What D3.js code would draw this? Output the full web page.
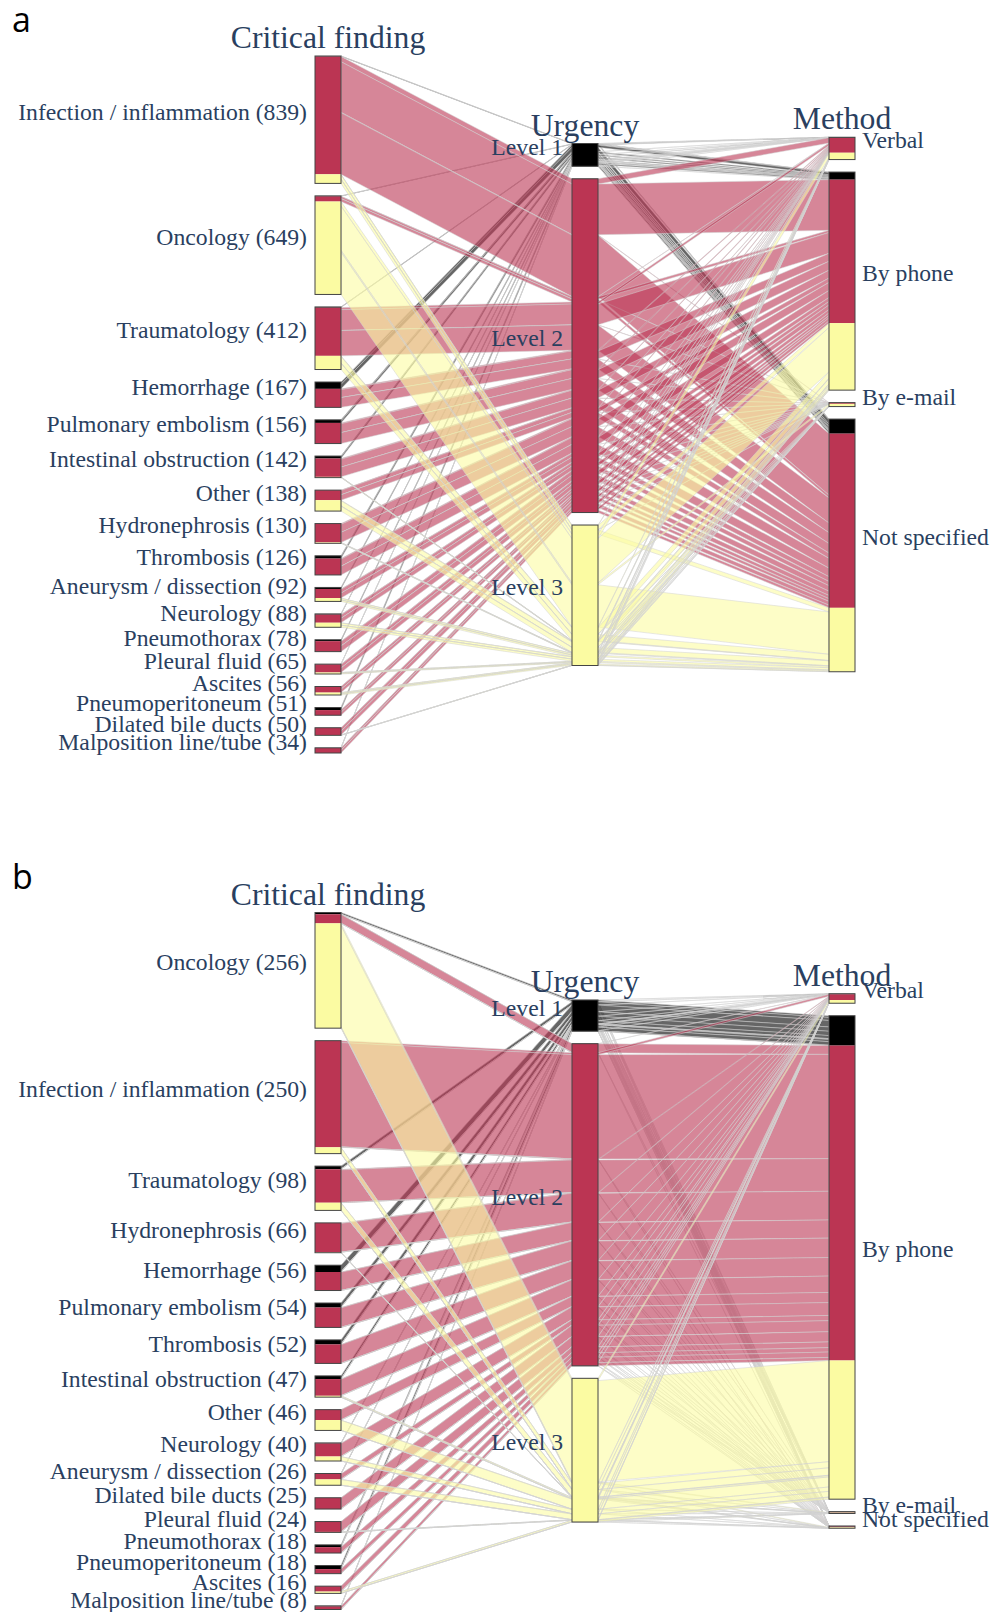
<!DOCTYPE html>
<html>
<head>
<meta charset="utf-8">
<script src="https://cdn.jsdelivr.net/npm/d3@7"></script>
<style>
  body { margin: 0; background: #fff; }
  svg { display: block; }
</style>
</head>
<body>
<svg id="chart" width="1004" height="1612"></svg>
<script>
// dimension names and categories shared by both panels
const dimTitles = ["Critical finding", "Urgency", "Method"];
const urgencyLevels = ["Level 1", "Level 2", "Level 3"];
const methodNames = ["Verbal", "By phone", "By e-mail", "Not specified"];
const levelColors = ["#000000", "#bb3553", "#fbfba2"];

// ---- panel a ----
const findingsA = ["Infection / inflammation", "Oncology", "Traumatology", "Hemorrhage",
  "Pulmonary embolism", "Intestinal obstruction", "Other", "Hydronephrosis", "Thrombosis",
  "Aneurysm / dissection", "Neurology", "Pneumothorax", "Pleural fluid", "Ascites",
  "Pneumoperitoneum", "Dilated bile ducts", "Malposition line/tube"];
const level1A = [3, 2, 4, 45, 20, 16, 0, 0, 18, 10, 4, 9, 1, 0, 17, 0, 1];
const level2A = [776, 35, 318, 122, 136, 121, 66, 124, 108, 60, 54, 69, 54, 40, 34, 48, 33];
const level3A = [60, 612, 90, 0, 0, 5, 72, 6, 0, 22, 30, 0, 10, 16, 0, 2, 0];
// method counts per urgency level: Verbal, By phone, By e-mail, Not specified
const methodLevel1A = [4, 50, 0, 96];
const methodLevel2A = [98, 945, 8, 1147];
const methodLevel3A = [45, 441, 18, 421];

// ---- panel b ----
const findingsB = ["Oncology", "Infection / inflammation", "Traumatology", "Hydronephrosis",
  "Hemorrhage", "Pulmonary embolism", "Thrombosis", "Intestinal obstruction", "Other",
  "Neurology", "Aneurysm / dissection", "Dilated bile ducts", "Pleural fluid",
  "Pneumothorax", "Pneumoperitoneum", "Ascites", "Malposition line/tube"];
const level1B = [4, 0, 7, 0, 15, 10, 10, 7, 0, 1, 1, 0, 0, 5, 8, 0, 1];
const level2B = [20, 236, 74, 65, 41, 44, 42, 37, 23, 29, 12, 25, 23, 13, 10, 12, 7];
const level3B = [232, 14, 17, 1, 0, 0, 0, 3, 23, 10, 13, 0, 1, 0, 0, 4, 0];
const methodLevel1B = [1, 66, 1, 1];
const methodLevel2B = [13, 697, 1, 2];
const methodLevel3B = [7, 307, 2, 2];

const svg = d3.select("#chart");
const textColor = "#2a3f5f";
const barWidth = 26;
const gap = 12.5;
const panelHeight = 697;

function drawPanel(letter, top, findings, levels, methodsByLevel) {
  const g = svg.append("g");
  const cats = [findings, urgencyLevels, methodNames];
  const maxCats = d3.max(cats, c => c.length);

  // one path per finding x urgency x method, already in parcats sort order
  const paths = [];
  urgencyLevels.forEach((u, ui) => {
    const mTot = d3.sum(methodsByLevel[ui]);
    findings.forEach((f, fi) => {
      methodNames.forEach((m, mi) => {
        const v = levels[ui][fi] * methodsByLevel[ui][mi] / mTot;
        if (v > 0) paths.push({ cat: [fi, ui, mi], level: ui, value: v });
      });
    });
  });
  const total = d3.sum(paths, p => p.value);

  const x = d3.scalePoint().domain(dimTitles).range([315, 829]);
  const y = d3.scaleLinear().domain([0, total]).range([0, panelHeight - gap * (maxCats - 1)]);

  // category boxes
  const boxes = cats.map((list, d) => {
    const counts = list.map((c, ci) => d3.sum(paths.filter(p => p.cat[d] === ci), p => p.value));
    let yy = top + (maxCats - list.length) * gap / 2;
    return list.map((c, ci) => {
      const b = { name: c, count: counts[ci], y0: yy, y1: yy + y(counts[ci]), ptr: yy };
      yy = b.y1 + gap;
      return b;
    });
  });

  // stack paths inside each category
  paths.forEach(p => {
    p.pos = p.cat.map((ci, d) => {
      const b = boxes[d][ci];
      const seg = [b.ptr, b.ptr + y(p.value)];
      b.ptr = seg[1];
      return seg;
    });
  });

  const line = d3.line();
  g.append("g").selectAll("path")
    .data(paths)
    .join("path")
    .attr("d", p => {
      const xs = dimTitles.map(t => x(t));
      const topPts = [[xs[0] + barWidth, p.pos[0][0]], [xs[1], p.pos[1][0]],
        [xs[1] + barWidth, p.pos[1][0]], [xs[2], p.pos[2][0]]];
      const botPts = [[xs[2], p.pos[2][1]], [xs[1] + barWidth, p.pos[1][1]],
        [xs[1], p.pos[1][1]], [xs[0] + barWidth, p.pos[0][1]]];
      return line(topPts.concat(botPts)) + "Z";
    })
    .attr("fill", p => levelColors[p.level])
    .attr("fill-opacity", 0.6)
    .attr("stroke", "lightgray")
    .attr("stroke-width", 0.5);

  // bars: colour bands then outline
  dimTitles.forEach((t, d) => {
    const dg = g.append("g");
    boxes[d].forEach((b, ci) => {
      const bands = urgencyLevels.map((u, ui) => {
        const ps = paths.filter(p => p.cat[d] === ci && p.level === ui);
        if (!ps.length) return null;
        return { level: ui, y0: d3.min(ps, p => p.pos[d][0]), y1: d3.max(ps, p => p.pos[d][1]) };
      }).filter(Boolean);
      dg.selectAll(null).data(bands).join("rect")
        .attr("x", x(t)).attr("width", barWidth)
        .attr("y", s => s.y0).attr("height", s => s.y1 - s.y0)
        .attr("fill", s => levelColors[s.level]);
      dg.append("rect")
        .attr("x", x(t)).attr("width", barWidth)
        .attr("y", b.y0).attr("height", Math.max(b.y1 - b.y0, 0.5))
        .attr("fill", "none")
        .attr("stroke", "#444")
        .attr("stroke-width", 1);
    });

    // category labels
    const labels = dg.selectAll("text.cat").data(boxes[d]).join("text")
      .attr("class", "cat")
      .attr("y", b => (b.y0 + b.y1) / 2)
      .attr("font-family", "Liberation Serif, Times New Roman, serif")
      .attr("font-size", 23.7)
      .attr("fill", textColor);
    if (d === 0) {
      labels.attr("x", x(t) - 8).attr("text-anchor", "end")
        .text(b => `${b.name} (${Math.round(b.count)})`);
    } else if (d === 1) {
      labels.attr("x", x(t) - 9).attr("text-anchor", "end").text(b => b.name);
    } else {
      labels.attr("x", x(t) + barWidth + 7).attr("text-anchor", "start").text(b => b.name);
    }

    // dimension title
    dg.append("text")
      .attr("x", x(t) + barWidth / 2)
      .attr("y", boxes[d][0].y0 - 8)
      .attr("text-anchor", "middle")
      .attr("font-family", "Liberation Serif, Times New Roman, serif")
      .attr("font-size", 31.7)
      .attr("fill", textColor)
      .text(t);
  });

  // panel letter
  svg.append("text")
    .attr("x", 12)
    .attr("y", top - 24)
    .attr("font-family", "Open Sans, sans-serif")
    .attr("font-size", 34)
    .attr("fill", "#000")
    .text(letter);
}

drawPanel("a", 56, findingsA, [level1A, level2A, level3A],
  [methodLevel1A, methodLevel2A, methodLevel3A]);
drawPanel("b", 912.5, findingsB, [level1B, level2B, level3B],
  [methodLevel1B, methodLevel2B, methodLevel3B]);
</script>
</body>
</html>
